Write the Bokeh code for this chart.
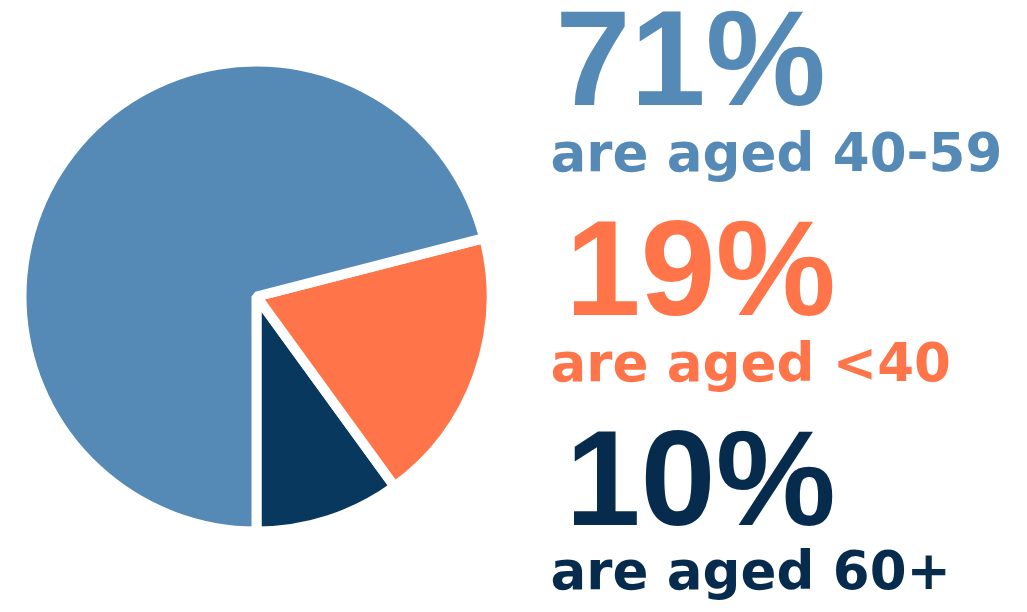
import math
from bokeh.plotting import figure
from bokeh.models import Range1d
from bokeh.core.properties import value
from bokeh.embed import file_html
from bokeh.resources import INLINE

# Data
age_groups = ["40-59", "<40", "60+"]
shares = [71, 19, 10]
colors = ["#5589B6", "#FF7549", "#09385E"]
text_colors = ["#5589B6", "#FF7549", "#062B4C"]
captions = ["are aged 40-59", "are aged <40", "are aged 60+"]

W, H = 1019, 604
p = figure(width=W, height=H, output_backend="svg", toolbar_location=None,
           x_range=Range1d(0, W), y_range=Range1d(612 - H, 612),
           min_border=0)
p.xaxis.visible = False
p.yaxis.visible = False
p.grid.visible = False
p.outline_line_color = None
p.background_fill_color = "white"
p.border_fill_color = "white"

def sy(y):
    return 612 - y

# Pie: start at 6 o'clock, counterclockwise: 60+, <40, 40-59
cx, cy, r = 256, sy(296), 235
order = [2, 1, 0]
start = -math.pi / 2
total = sum(shares)
for i in order:
    ang = shares[i] / total * 2 * math.pi
    p.wedge(x=[cx], y=[cy], radius=r, start_angle=start, end_angle=start + ang,
            fill_color=colors[i], line_color="white", line_width=10)
    start += ang

# Text blocks (screen baselines; corrected for the renderer's baseline offset)
NUM_SIZE, CAP_SIZE = 135, 53
num_pos = [(555, 107), (565, 317), (565, 527)]
cap_pos = [(550, 172), (550, 382), (550, 590)]
for i in range(3):
    p.text(x=[num_pos[i][0]], y=[sy(num_pos[i][1] - 0.365 * NUM_SIZE)], text=[f"{shares[i]}%"],
           text_color=text_colors[i], text_font=value("Liberation Sans"),
           text_font_style="bold", text_font_size=f"{NUM_SIZE}px",
           text_align="left", text_baseline="alphabetic")
    p.text(x=[cap_pos[i][0]], y=[sy(cap_pos[i][1] - 0.37 * CAP_SIZE)], text=[captions[i]],
           text_color=text_colors[i], text_font=value("DejaVu Sans"),
           text_font_style="bold", text_font_size=f"{CAP_SIZE}px",
           text_align="left", text_baseline="alphabetic")

open("out.html", "w").write(file_html(p, INLINE))
